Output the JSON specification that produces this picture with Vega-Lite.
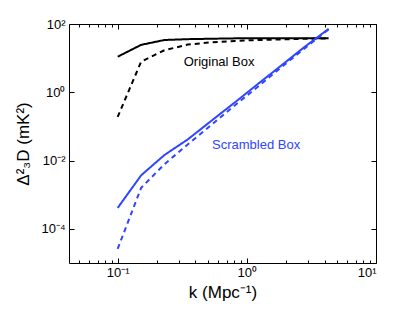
{
  "$schema": "https://vega.github.io/schema/vega-lite/v6.json",
  "width": 307,
  "height": 239,
  "autosize": {"type": "none"},
  "padding": {"left": 69, "top": 24, "right": 39, "bottom": 50},
  "background": "white",
  "config": {
    "view": {"stroke": "black", "strokeWidth": 1},
    "font": "Liberation Sans",
    "axis": {"domain": false, "grid": false, "tickColor": "black", "labelColor": "black", "titleColor": "black", "labelFont": "Liberation Sans", "titleFont": "Liberation Sans", "titleFontWeight": "normal"}
  },
  "datasets": {
    "curves": [
      {"k": 0.1, "v": 11, "series": "Original", "style": "Full"},
      {"k": 0.152, "v": 24.5, "series": "Original", "style": "Full"},
      {"k": 0.23, "v": 34, "series": "Original", "style": "Full"},
      {"k": 0.35, "v": 36, "series": "Original", "style": "Full"},
      {"k": 0.53, "v": 37, "series": "Original", "style": "Full"},
      {"k": 0.81, "v": 38, "series": "Original", "style": "Full"},
      {"k": 1.23, "v": 38, "series": "Original", "style": "Full"},
      {"k": 1.86, "v": 38, "series": "Original", "style": "Full"},
      {"k": 2.83, "v": 38, "series": "Original", "style": "Full"},
      {"k": 4.3, "v": 38, "series": "Original", "style": "Full"},
      {"k": 0.1, "v": 0.19, "series": "Original", "style": "Reduced"},
      {"k": 0.152, "v": 7.9, "series": "Original", "style": "Reduced"},
      {"k": 0.23, "v": 17, "series": "Original", "style": "Reduced"},
      {"k": 0.35, "v": 25, "series": "Original", "style": "Reduced"},
      {"k": 0.53, "v": 29, "series": "Original", "style": "Reduced"},
      {"k": 0.81, "v": 32, "series": "Original", "style": "Reduced"},
      {"k": 1.23, "v": 34, "series": "Original", "style": "Reduced"},
      {"k": 1.86, "v": 35.5, "series": "Original", "style": "Reduced"},
      {"k": 2.83, "v": 37, "series": "Original", "style": "Reduced"},
      {"k": 4.3, "v": 38, "series": "Original", "style": "Reduced"},
      {"k": 0.1, "v": 0.00041, "series": "Scrambled", "style": "Full"},
      {"k": 0.152, "v": 0.0037, "series": "Scrambled", "style": "Full"},
      {"k": 0.23, "v": 0.0145, "series": "Scrambled", "style": "Full"},
      {"k": 0.35, "v": 0.042, "series": "Scrambled", "style": "Full"},
      {"k": 0.53, "v": 0.145, "series": "Scrambled", "style": "Full"},
      {"k": 0.81, "v": 0.51, "series": "Scrambled", "style": "Full"},
      {"k": 1.23, "v": 1.8, "series": "Scrambled", "style": "Full"},
      {"k": 1.86, "v": 6.2, "series": "Scrambled", "style": "Full"},
      {"k": 2.83, "v": 22, "series": "Scrambled", "style": "Full"},
      {"k": 4.3, "v": 72, "series": "Scrambled", "style": "Full"},
      {"k": 0.1, "v": 0.000026, "series": "Scrambled", "style": "Reduced"},
      {"k": 0.152, "v": 0.0016, "series": "Scrambled", "style": "Reduced"},
      {"k": 0.23, "v": 0.0078, "series": "Scrambled", "style": "Reduced"},
      {"k": 0.35, "v": 0.03, "series": "Scrambled", "style": "Reduced"},
      {"k": 0.53, "v": 0.11, "series": "Scrambled", "style": "Reduced"},
      {"k": 0.81, "v": 0.42, "series": "Scrambled", "style": "Reduced"},
      {"k": 1.23, "v": 1.5, "series": "Scrambled", "style": "Reduced"},
      {"k": 1.86, "v": 5.5, "series": "Scrambled", "style": "Reduced"},
      {"k": 2.83, "v": 20, "series": "Scrambled", "style": "Reduced"},
      {"k": 4.3, "v": 70, "series": "Scrambled", "style": "Reduced"}
    ],
    "labels": [
      {"k": 0.61, "v": 7.8, "label": "Original Box", "series": "Original"},
      {"k": 1.18, "v": 0.028, "label": "Scrambled Box", "series": "Scrambled"}
    ]
  },
  "resolve": {"axis": {"x": "independent", "y": "independent"}},
  "layer": [
    {
      "data": {"name": "curves"},
      "mark": {"type": "line", "strokeWidth": 2, "clip": true},
      "encoding": {
        "x": {"field": "k", "type": "quantitative", "scale": {"type": "log", "domain": [0.042, 10], "nice": false},
          "axis": {"orient": "bottom", "values": [0.1, 1, 10], "tickSize": -5, "labelPadding": 8, "labelFontSize": 13,
            "labelExpr": "datum.value == 0.1 ? '10⁻¹' : datum.value == 1 ? '10⁰' : '10¹'",
            "title": "k (Mpc⁻¹)", "titleFontSize": 17, "titlePadding": 5}},
        "y": {"field": "v", "type": "quantitative", "scale": {"type": "log", "domain": [0.00001, 100], "nice": false},
          "axis": {"orient": "left", "values": [0.0001, 0.01, 1, 100], "tickSize": -5, "labelPadding": 9, "labelFontSize": 13,
            "labelExpr": "datum.value == 100 ? '10²' : datum.value == 1 ? '10⁰' : datum.value == 0.01 ? '10⁻²' : '10⁻⁴'",
            "title": "Δ²₃D (mK²)", "titleFontSize": 17, "titlePadding": 8}},
        "color": {"field": "series", "type": "nominal", "scale": {"domain": ["Original", "Scrambled"], "range": ["black", "#2f45ff"]}, "legend": null},
        "strokeDash": {"field": "style", "type": "nominal", "scale": {"domain": ["Full", "Reduced"], "range": [[1, 0], [5, 4]]}, "legend": null},
        "detail": {"field": "style"}
      }
    },
    {
      "data": {"name": "curves"},
      "mark": {"type": "point", "opacity": 0},
      "encoding": {
        "x": {"field": "k", "type": "quantitative",
          "axis": {"orient": "bottom", "values": [0.05, 0.06, 0.07, 0.08, 0.09, 0.2, 0.3, 0.4, 0.5, 0.6, 0.7, 0.8, 0.9, 2, 3, 4, 5, 6, 7, 8, 9], "tickSize": -3, "labels": false, "title": null}},
        "y": {"field": "v", "type": "quantitative",
          "axis": {"orient": "right", "values": [0.0001, 0.01, 1, 100], "tickSize": -5, "labels": false, "title": null}}
      }
    },
    {
      "data": {"name": "curves"},
      "mark": {"type": "point", "opacity": 0},
      "encoding": {
        "x": {"field": "k", "type": "quantitative",
          "axis": {"orient": "top", "values": [0.1, 1, 10], "tickSize": -5, "labels": false, "title": null}},
        "y": {"field": "v", "type": "quantitative", "axis": null}
      }
    },
    {
      "data": {"name": "curves"},
      "mark": {"type": "point", "opacity": 0},
      "encoding": {
        "x": {"field": "k", "type": "quantitative",
          "axis": {"orient": "top", "values": [0.05, 0.06, 0.07, 0.08, 0.09, 0.2, 0.3, 0.4, 0.5, 0.6, 0.7, 0.8, 0.9, 2, 3, 4, 5, 6, 7, 8, 9], "tickSize": -3, "labels": false, "title": null}},
        "y": {"field": "v", "type": "quantitative", "axis": null}
      }
    },
    {
      "data": {"name": "labels"},
      "mark": {"type": "text", "fontSize": 13, "font": "Liberation Sans", "align": "center", "baseline": "middle"},
      "encoding": {
        "x": {"field": "k", "type": "quantitative", "axis": null},
        "y": {"field": "v", "type": "quantitative", "axis": null},
        "text": {"field": "label"},
        "color": {"field": "series", "type": "nominal", "legend": null}
      }
    }
  ]
}
